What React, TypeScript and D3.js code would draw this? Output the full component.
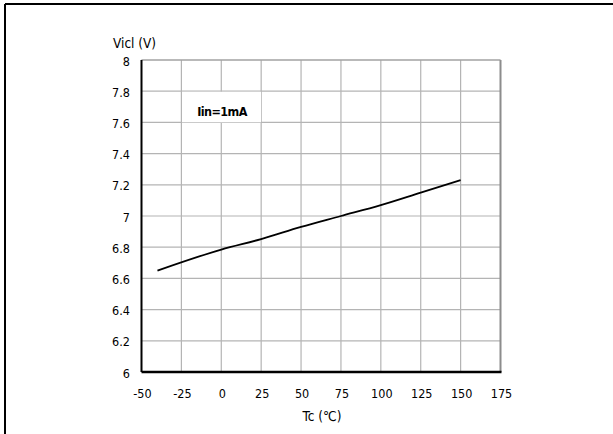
import React from "react";
import * as d3 from "d3";

const tempC = [-40, 0, 25, 50, 75, 100, 125, 150];
const vicl = [6.65, 6.785, 6.852, 6.93, 7.0, 7.07, 7.15, 7.23];
const xTicks = [-50, -25, 0, 25, 50, 75, 100, 125, 150, 175];
const yTicks = [6, 6.2, 6.4, 6.6, 6.8, 7, 7.2, 7.4, 7.6, 7.8, 8];
const yTitle = "Vicl (V)";
const xTitle = "Tc (℃)";
const annotation = "Iin=1mA";

const W = 613;
const H = 434;
const left = 141.5;
const right = 500.5;
const top = 60;
const bottom = 372;

const FONT = "'DejaVu Sans Condensed', 'DejaVu Sans', sans-serif";

export default function App() {
  const x = d3.scaleLinear().domain([-50, 175]).range([left, right]);
  const y = d3.scaleLinear().domain([6, 8]).range([bottom, top]);
  const pts: [number, number][] = tempC.map((t, i) => [t, vicl[i]]);
  const line = d3
    .line<[number, number]>()
    .x((d) => x(d[0]))
    .y((d) => y(d[1]))
    .curve(d3.curveMonotoneX);

  return (
    <svg
      width={W}
      height={H}
      style={{ position: "absolute", left: 0, top: 0, background: "#fff" }}
    >
      <rect x={0} y={0} width={W} height={H} fill="#fff" />
      {/* outer frame (top & left only visible) */}
      <line x1={5} y1={4} x2={W} y2={4} stroke="#000" strokeWidth={2} />
      <line x1={5} y1={4} x2={5} y2={H} stroke="#000" strokeWidth={2} />

      {/* grid */}
      {xTicks.slice(1, -1).map((t) => (
        <line
          key={"gx" + t}
          x1={x(t)}
          x2={x(t)}
          y1={top}
          y2={bottom}
          stroke="#b4b4b4"
          strokeWidth={1.2}
        />
      ))}
      {yTicks.slice(1).map((t) => (
        <line
          key={"gy" + t}
          x1={left}
          x2={right}
          y1={y(t)}
          y2={y(t)}
          stroke="#b4b4b4"
          strokeWidth={1.2}
        />
      ))}
      {/* right border */}
      <line x1={right} x2={right} y1={top} y2={bottom} stroke="#8c8c8c" strokeWidth={2} />
      <line x1={left} x2={right} y1={top} y2={top} stroke="#9a9a9a" strokeWidth={1.2} />

      {/* annotation box */}
      <rect x={182} y={91.8} width={79} height={30.5} fill="#fff" />
      <text
        x={222}
        y={116}
        textAnchor="middle"
        fontFamily={FONT}
        fontSize={12.5}
        fontWeight="bold"
        letterSpacing={-0.6}
        fill="#000"
      >
        {annotation}
      </text>

      {/* axes */}
      <line x1={left} x2={left} y1={top} y2={bottom} stroke="#000" strokeWidth={2} />
      <line x1={left} x2={right + 1} y1={bottom} y2={bottom} stroke="#000" strokeWidth={2.5} />

      {/* data */}
      <path d={line(pts) || ""} fill="none" stroke="#000" strokeWidth={1.8} />

      {/* y ticks */}
      {yTicks.map((t) => (
        <text
          key={"ty" + t}
          x={130}
          y={y(t) + 5.5}
          textAnchor="end"
          fontFamily={FONT}
          fontSize={12.5}
          fill="#000"
        >
          {String(t)}
        </text>
      ))}
      {/* x ticks */}
      {xTicks.map((t) => (
        <text
          key={"tx" + t}
          x={x(t) + 1}
          y={398}
          textAnchor="middle"
          fontFamily={FONT}
          fontSize={12.5}
          fill="#000"
        >
          {String(t)}
        </text>
      ))}

      {/* titles */}
      <text x={113} y={48} fontFamily={FONT} fontSize={13.5} fill="#000">
        {yTitle}
      </text>
      <text
        x={322}
        y={421}
        textAnchor="middle"
        fontFamily={FONT}
        fontSize={13.5}
        fill="#000"
      >
        {xTitle}
      </text>
    </svg>
  );
}
